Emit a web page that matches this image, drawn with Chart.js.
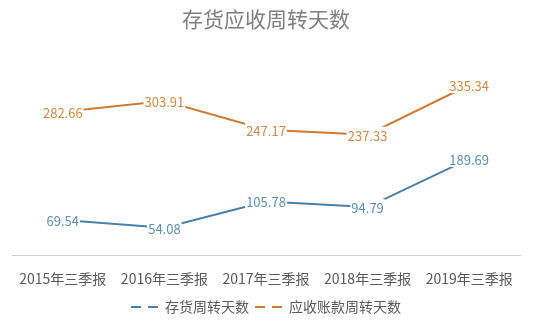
<!DOCTYPE html>
<html>
<head>
<meta charset="utf-8">
<script src="https://cdn.jsdelivr.net/npm/chart.js@4/dist/chart.umd.min.js"></script>
<style>
  body { margin: 0; background: #fff; }
  #wrap { width: 552px; height: 325px; }
</style>
</head>
<body>
<div id="wrap"><canvas id="chart"></canvas></div>
<script>
const categories = ['2015年三季报', '2016年三季报', '2017年三季报', '2018年三季报', '2019年三季报'];
const inventoryDays = [69.54, 54.08, 105.78, 94.79, 189.69];
const receivableDays = [282.66, 303.91, 247.17, 237.33, 335.34];
const seriesNames = ['存货周转天数', '应收账款周转天数'];

const FONT = '"Microsoft YaHei", "Noto Sans CJK SC", sans-serif';

// labels sit on the point with a white box under them, like Excel
const pointLabels = {
    id: 'pointLabels',
    afterDatasetsDraw(chart) {
        const ctx = chart.ctx;
        ctx.save();
        ctx.font = '13px ' + FONT;
        ctx.textAlign = 'center';
        ctx.textBaseline = 'middle';
        chart.data.datasets.forEach((ds, i) => {
            chart.getDatasetMeta(i).data.forEach((pt, j) => {
                const txt = ds.data[j].toFixed(2);
                const w = ctx.measureText(txt).width;
                ctx.fillStyle = '#fff';
                ctx.fillRect(pt.x - w / 2 - 1, pt.y - 8, w + 2, 16);
                ctx.fillStyle = ds.labelColor;
                ctx.fillText(txt, pt.x, pt.y + 1);
            });
        });
        ctx.restore();
    }
};

new Chart(document.getElementById('chart'), {
    type: 'line',
    data: {
        labels: categories,
        datasets: [{
            label: seriesNames[0],
            data: inventoryDays,
            borderColor: '#4a7fa8',
            backgroundColor: '#4a7fa8',
            labelColor: '#5b8fb9',
            borderWidth: 2,
            pointRadius: 0,
            pointStyle: 'line',
            tension: 0
        }, {
            label: seriesNames[1],
            data: receivableDays,
            borderColor: '#d07a35',
            backgroundColor: '#d07a35',
            labelColor: '#d38a44',
            borderWidth: 2,
            pointRadius: 0,
            pointStyle: 'line',
            tension: 0
        }]
    },
    options: {
        responsive: true,
        maintainAspectRatio: false,
        animation: false,
        layout: { padding: { left: 12, right: 32, top: 6, bottom: 1 } },
        plugins: {
            title: {
                display: true,
                text: '存货应收周转天数',
                color: '#808080',
                font: { family: FONT, size: 21, weight: 'normal' },
                padding: { top: 0, bottom: 21 }
            },
            legend: {
                position: 'bottom',
                labels: {
                    color: '#595959',
                    font: { family: FONT, size: 14 },
                    usePointStyle: true,
                    pointStyleWidth: 27,
                    padding: 6,
                    generateLabels(chart) {
                        const items = Chart.defaults.plugins.legend.labels.generateLabels(chart);
                        items.forEach(it => { it.lineDash = [10, 7]; it.lineWidth = 2; });
                        return items;
                    }
                }
            },
            tooltip: { enabled: false }
        },
        scales: {
            x: {
                offset: true,
                grid: { display: false },
                border: { color: '#d0d0d0', width: 1 },
                ticks: { color: '#595959', font: { family: FONT, size: 14 }, padding: 7, maxRotation: 0 }
            },
            y: {
                display: false,
                min: 0,
                max: 400
            }
        }
    },
    plugins: [pointLabels]
});
</script>
</body>
</html>
